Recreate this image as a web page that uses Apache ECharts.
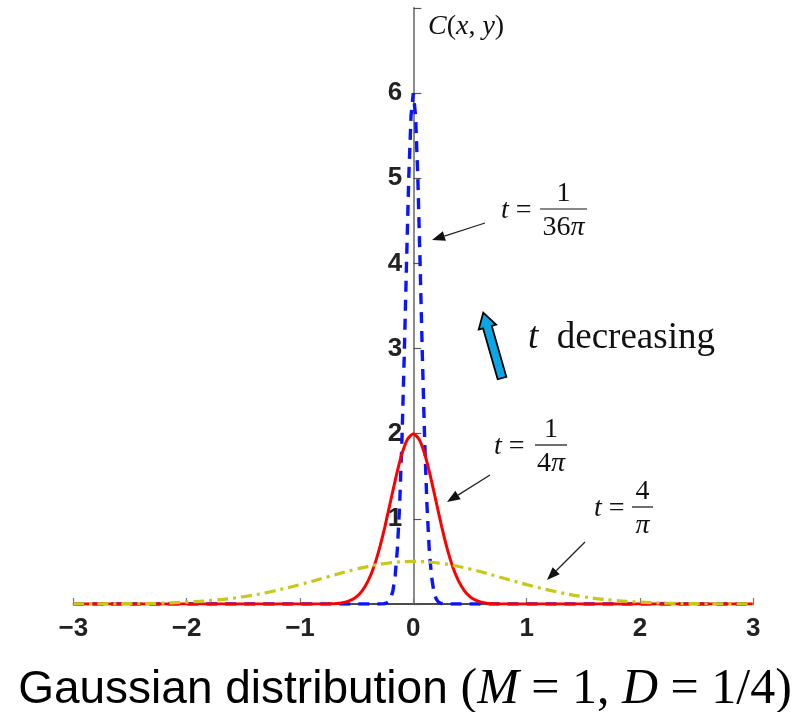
<!DOCTYPE html>
<html>
<head>
<meta charset="utf-8">
<script src="https://cdn.jsdelivr.net/npm/echarts@6/dist/echarts.min.js"></script>
<style>
  html, body { margin: 0; padding: 0; background: #fff; }
  #chart { width: 794px; height: 712px; }
</style>
</head>
<body>
<div id="chart"></div>
<script>
// t = 1/(36*pi)  (blue dashed)
const blueX = [-3, -0.30, -0.28, -0.26, -0.24, -0.22, -0.20, -0.18, -0.16, -0.14, -0.12, -0.10, -0.08, -0.06, -0.04, -0.02,
  0, 0.02, 0.04, 0.06, 0.08, 0.10, 0.12, 0.14, 0.16, 0.18, 0.20, 0.22, 0.24, 0.26, 0.28, 0.30, 3];
const blueY = [0, 0, 0.001, 0.003, 0.009, 0.025, 0.065, 0.154, 0.332, 0.654, 1.177, 1.936, 2.909, 3.993, 5.007, 5.735,
  6, 5.735, 5.007, 3.993, 2.909, 1.936, 1.177, 0.654, 0.332, 0.154, 0.065, 0.025, 0.009, 0.003, 0.001, 0, 0];

// t = 1/(4*pi)  (red solid)
const redX = [-3, -1, -0.8, -0.75, -0.7, -0.65, -0.6, -0.55, -0.5, -0.45, -0.4, -0.35, -0.3, -0.25, -0.2, -0.15, -0.1, -0.05,
  0, 0.05, 0.1, 0.15, 0.2, 0.25, 0.3, 0.35, 0.4, 0.45, 0.5, 0.55, 0.6, 0.65, 0.7, 0.75, 0.8, 1, 3];
const redY = [0, 0, 0.001, 0.002, 0.004, 0.010, 0.022, 0.045, 0.086, 0.157, 0.268, 0.429, 0.645, 0.912, 1.210, 1.507, 1.764, 1.938,
  2, 1.938, 1.764, 1.507, 1.210, 0.912, 0.645, 0.429, 0.268, 0.157, 0.086, 0.045, 0.022, 0.010, 0.004, 0.002, 0.001, 0, 0];

// t = 4/pi  (yellow dash-dot)
const yelX = [-3, -2.75, -2.5, -2.25, -2, -1.75, -1.5, -1.25, -1, -0.75, -0.5, -0.25,
  0, 0.25, 0.5, 0.75, 1, 1.25, 1.5, 1.75, 2, 2.25, 2.5, 2.75, 3];
const yelY = [0.0004, 0.001, 0.004, 0.009, 0.022, 0.045, 0.085, 0.147, 0.228, 0.321, 0.411, 0.476,
  0.5, 0.476, 0.411, 0.321, 0.228, 0.147, 0.085, 0.045, 0.022, 0.009, 0.004, 0.001, 0.0004];

const zip = (xs, ys) => xs.map((x, i) => [x, ys[i]]);

const SERIF = '"Liberation Serif", "DejaVu Serif", serif';
const SANS = '"Liberation Sans", Arial, sans-serif';

function arrow(x1, y1, x2, y2) {
  const a = Math.atan2(y2 - y1, x2 - x1);
  const hl = 13, hw = 5;
  const bx = x2 - hl * Math.cos(a), by = y2 - hl * Math.sin(a);
  return [
    { type: 'line', shape: { x1: x1, y1: y1, x2: bx, y2: by }, style: { stroke: '#222', lineWidth: 1.3 } },
    { type: 'polygon', shape: { points: [[x2, y2], [bx + hw * Math.sin(a), by - hw * Math.cos(a)], [bx - hw * Math.sin(a), by + hw * Math.cos(a)]] },
      style: { fill: '#111' } }
  ];
}

// "t = num/den" label
function tLabel(tx, lx1, lx2, ly, num, den) {
  const cx = (lx1 + lx2) / 2;
  const base = { fill: '#111', fontFamily: SERIF, fontSize: 28, verticalAlign: 'middle' };
  return [
    { type: 'text', x: tx, y: ly + 2, style: Object.assign({}, base, {
        text: '{i|t}{n| = }', align: 'left',
        rich: { i: { fontStyle: 'italic', fontSize: 28, fontFamily: SERIF }, n: { fontSize: 28, fontFamily: SERIF } } }) },
    { type: 'line', shape: { x1: lx1, y1: ly, x2: lx2, y2: ly }, style: { stroke: '#111', lineWidth: 1.2 } },
    { type: 'text', x: cx, y: ly - 15, style: Object.assign({}, base, { text: num, align: 'center' }) },
    { type: 'text', x: cx, y: ly + 19, style: Object.assign({}, base, {
        text: den, align: 'center',
        rich: { i: { fontStyle: 'italic', fontSize: 28, fontFamily: SERIF } } }) }
  ];
}

const chart = echarts.init(document.getElementById('chart'));

const option = {
  backgroundColor: '#fff',
  animation: false,
  grid: { left: 73.3, right: 40.7, top: 8, bottom: 108 },
  xAxis: {
    type: 'value',
    min: -3, max: 3, interval: 1,
    axisLine: { onZero: false, lineStyle: { color: '#111', width: 1.5 } },
    axisTick: { inside: true, length: 6, lineStyle: { color: '#777', width: 1.2 } },
    axisLabel: {
      margin: 12, fontSize: 26, fontWeight: 'bold', fontFamily: SANS, color: '#222',
      formatter: v => String(v).replace('-', '\u2212')
    },
    splitLine: { show: false }
  },
  yAxis: {
    type: 'value',
    min: 0, max: 7, interval: 1,
    // move the axis from the left edge to x = 0
    offset: -340,
    axisLine: { onZero: false, lineStyle: { color: '#8c8c8c', width: 2 } },
    axisTick: { inside: true, length: 8, lineStyle: { color: '#555', width: 1.2 } },
    axisLabel: {
      margin: 11, fontSize: 26, fontWeight: 'bold', fontFamily: SANS, color: '#222',
      formatter: v => (v === 0 || v === 7) ? '' : String(v)
    },
    splitLine: { show: false }
  },
  series: [
    {
      type: 'line', data: zip(blueX, blueY), showSymbol: false,
      lineStyle: { color: '#0a14ff', width: 3.4, type: [11, 8] }
    },
    {
      type: 'line', data: zip(redX, redY), showSymbol: false, smooth: 0.2,
      lineStyle: { color: '#ff0000', width: 3 }
    },
    {
      type: 'line', data: zip(yelX, yelY), showSymbol: false, smooth: 0.4,
      lineStyle: { color: '#c8c81a', width: 3.2, type: [11, 5, 3, 5] }
    }
  ],
  graphic: [].concat(
    [{ type: 'text', x: 428, y: 27, style: {
        text: '{i|C}{n|(}{i|x}{n|, }{i|y}{n|)}', fill: '#111', verticalAlign: 'middle', align: 'left',
        rich: { i: { fontStyle: 'italic', fontSize: 28, fontFamily: SERIF }, n: { fontSize: 28, fontFamily: SERIF } } } }],
    tLabel(501, 540, 587, 209, '1', '36{i|\u03c0}'),
    arrow(485, 223, 432, 240),
    tLabel(494, 535, 567, 445, '1', '4{i|\u03c0}'),
    arrow(490, 475, 447, 502),
    tLabel(594, 632, 653, 507, '4', '{i|\u03c0}'),
    arrow(585, 542, 547, 580),
    [{ type: 'polygon', x: 502, y: 378, rotation: 16 * Math.PI / 180,
        shape: { points: [[-4.5, 0], [-4.5, -53], [-9, -53], [0, -68], [9, -53], [4.5, -53], [4.5, 0]] },
        style: { fill: '#0aa7e6', stroke: '#000', lineWidth: 1.8 } },
     { type: 'text', x: 528, y: 338, style: {
        text: '{i|t}{n|  decreasing}', fill: '#111', verticalAlign: 'middle', align: 'left',
        rich: { i: { fontStyle: 'italic', fontSize: 37, fontFamily: SERIF }, n: { fontSize: 37, fontFamily: SERIF } } } },
     { type: 'text', x: 405, y: 690, style: {
        text: '{s|Gaussian distribution }{n|(}{i|M}{n| = 1, }{i|D}{n| = 1/4)}', fill: '#000',
        verticalAlign: 'middle', align: 'center',
        rich: { s: { fontSize: 46, fontFamily: SANS }, n: { fontSize: 50, fontFamily: SERIF },
                i: { fontSize: 50, fontFamily: SERIF, fontStyle: 'italic' } } } }]
  )
};

chart.setOption(option);
</script>
</body>
</html>
